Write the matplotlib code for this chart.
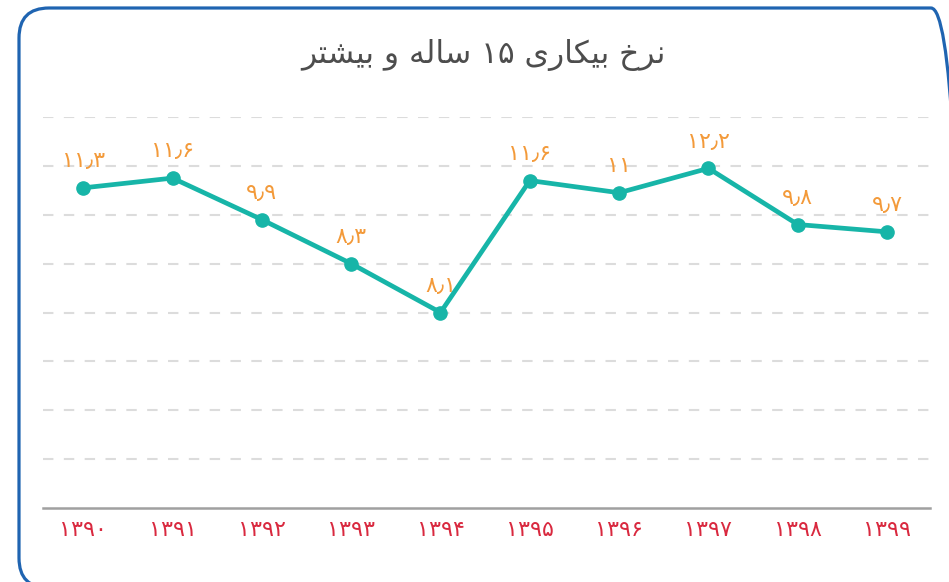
import matplotlib
matplotlib.use("Agg")
import matplotlib.pyplot as plt
from matplotlib.patches import FancyBboxPatch
from matplotlib.transforms import IdentityTransform

# ==========================
# Data
# ==========================

years = [1390, 1391, 1392, 1393, 1394, 1395, 1396, 1397, 1398, 1399]

# values printed next to each point
rates_shown = [11.3, 11.6, 9.9, 8.3, 8.1, 11.6, 11, 12.2, 9.8, 9.7]

# heights of the points as drawn in the chart
rates_plotted = [13.1, 13.5, 11.8, 10.0, 8.0, 13.4, 12.9, 13.9, 11.6, 11.3]

# title "نرخ بیکاری ۱۵ ساله و بیشتر" written in shaped, visual order
title_text = ("\uFEAE\uFE98\uFEB8\uFBFF\uFE91 \uFEED \uFEEA\uFEDF\uFE8E\uFEB3 "
              "\u06F1\u06F5 \uFBFC\uFEAD\uFE8E\uFB91\uFBFF\uFE91 \uFEA5\uFEAE\uFEE7")

FA_DIGITS = str.maketrans("0123456789.", "۰۱۲۳۴۵۶۷۸۹\u066B")


def fa(v):
    return str(v).translate(FA_DIGITS)


plt.rcParams["font.family"] = ["DejaVu Sans"]

fig = plt.figure(figsize=(9.49, 5.82), dpi=100)
fig.patch.set_facecolor("white")

W, H = 949, 582
ax = fig.add_axes([43 / W, (H - 508) / H, (930 - 43) / W, (508 - 117) / H])

x = list(range(len(years)))

ax.plot(x, rates_plotted, color="#17b5a8", linewidth=3.4,
        marker="o", markersize=9.5, zorder=3, clip_on=False)

for xi, yi, lab in zip(x, rates_plotted, rates_shown):
    ax.annotate(fa(lab), (xi, yi), xytext=(0, 12), textcoords="offset points",
                ha="center", va="bottom", color="#f39a3a", fontsize=16)

ax.set_xlim(-0.45, 9.48)
ax.set_ylim(0, 16)
ax.set_yticks([2, 4, 6, 8, 10, 12, 14, 16])
ax.yaxis.grid(True, color="#dcdcdc", linestyle=(0, (5, 5)), linewidth=1.5)
ax.set_axisbelow(True)

ax.set_xticks(x)
ax.set_xticklabels([fa(y) for y in years], color="#d9293f", fontsize=16)
ax.tick_params(axis="x", length=0, pad=9)
ax.tick_params(axis="y", length=0, labelleft=False)

for s in ["top", "left", "right"]:
    ax.spines[s].set_visible(False)
ax.spines["bottom"].set_color("#a0a0a0")
ax.spines["bottom"].set_linewidth(1.8)

fig.text(483 / W, (H - 55) / H, title_text, ha="center", va="center",
         fontsize=22.5, color="#4d4d4d")

# rounded frame around the card (runs past the right and bottom edges)
frame = FancyBboxPatch((19, -6), 942, 580,
                       boxstyle="round,pad=0,rounding_size=30",
                       transform=IdentityTransform(),
                       facecolor="none", edgecolor="#1f64b1", linewidth=2.3)
fig.add_artist(frame)

plt.savefig("out.png", dpi=100)
plt.close()
